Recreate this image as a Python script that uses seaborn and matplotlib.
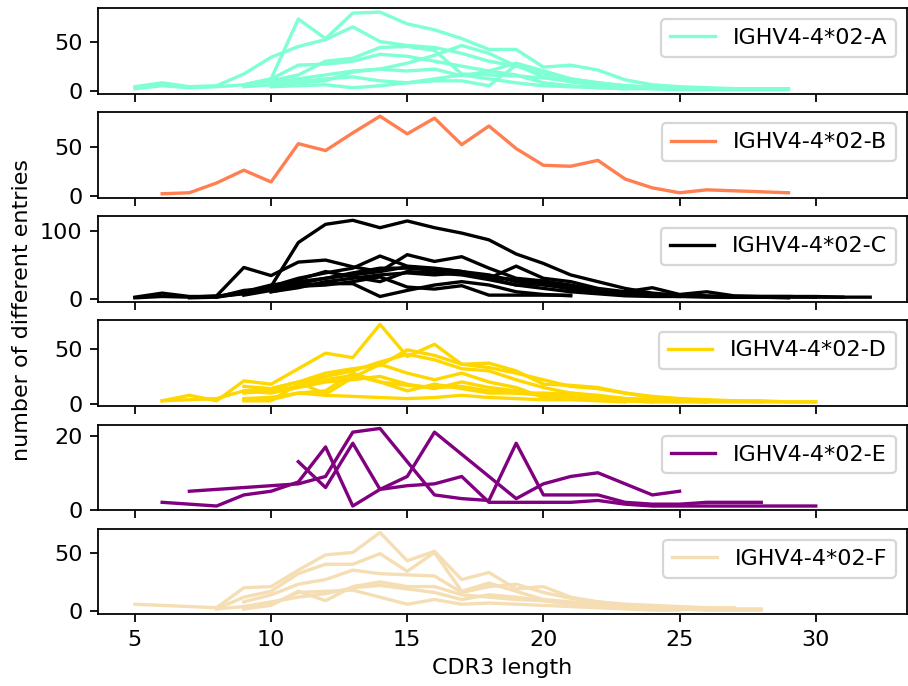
import numpy as np
import pandas as pd
import matplotlib.pyplot as plt
import seaborn as sns
from matplotlib.lines import Line2D

names = ['IGHV4-4*02-A', 'IGHV4-4*02-B', 'IGHV4-4*02-C',
         'IGHV4-4*02-D', 'IGHV4-4*02-E', 'IGHV4-4*02-F']
colors = ['aquamarine', 'coral', 'black', 'gold', 'purple', 'wheat']
yticks = [[0, 50], [0, 50], [0, 100], [0, 50], [0, 20], [0, 50]]

# first CDR3 length of every sample line, then its counts (None = length missing)
a_start = [5, 5, 9, 9, 10, 10, 10, 9]
a_counts = [
    [2, 5, 3, 4, 6, 12, 73, 53, 79, 80, 68, 62, 53, 42, 42, 24, 26, 21, 11, 6, 4, 3, 2, 2, 2],
    [4, 8, 4, 5, 17, 34, 45, 52, 65, 50, 46, 44, 38, 30, 25, 20, 12, 8, 5, 4, 3, 2],
    [6, 12, 26, 27, 30, 37, 35, 30, 25, 20, 28, 20, 12, 8, 5, 3, 2],
    [5, 10, 16, 30, 33, 44, 45, 41, 17, 16, 15, 13, 10, 7, 4, 2, 2],
    [8, 12, 16, 20, 22, 28, 36, 46, 38, 25, 18, 10, 6, 4, 3],
    [6, 8, 10, 19, 22, 20, 22, 15, 20, 16, 8, 5, 3, 2],
    [4, 5, 6, 3, 5, 8, 10, 10, 5, 26, 14, 9, 5, 3],
    [4, 6, 9, 12, 14, 10, 8, 12, 16, 12, 8, 5, 4, 3, 2, 2, 1, 1, 1, 1, 1],
]

b_start = [6]
b_counts = [
    [2, 3, 13, 26, 14, 53, 46, 64, 81, 63, 79, 52, 71, 48, 31, 30, 36, 17, 8, 3, 6, 5, 4, 3],
]

c_start = [5, 5, 8, 8, 7, 9, 10, 9, 10]
c_counts = [
    [2, 8, 3, 3, 7, 18, 83, 110, 116, 105, 115, 105, 97, 87, 66, 52, 35, 25, 15, 8, 5, 4, 3, 3, 3, 3, 2, 2],
    [1, 3, 2, 4, 46, 34, 54, 57, 47, 40, 47, 44, 40, 30, 20, 15, 10, 7, 4, 3, 3, 2, 2, 2, 2, 2],
    [2, 8, 18, 30, 38, 45, 63, 48, 45, 40, 30, 48, 30, 25, 15, 10, 6, 4, 3, 2, 2],
    [3, 10, 20, 25, 30, 35, 40, 65, 55, 62, 45, 30, 26, 20, 12, 10, 16, 6, 10, 4, 3, 3, 2, 2],
    [1, 2, 12, 15, 28, 40, 32, 25, 40, 38, 35, 28, 20, 22, 14, 8, 6, 4],
    [5, 12, 20, 22, 22, 3, 12, 20, 25, 20, 10, 6, 4],
    [10, 18, 20, 25, 32, 17, 14, 19, 5, 5, 5, 5],
    [6, 14, 22, 30, 38, 45, 45, 42, 40, 35, 25, 20, 15, 10, 6, 4, 3],
    [10, 16, 25, 30, 35, 38, 35, 38, 32, 28, 24, 18, 12, 8, 5, 4, 3, 2, 2, 1],
]

d_start = [6, 6, 9, 9, 9, 9, 9, 9]
d_counts = [
    [3, 8, 3, 21, 18, 32, 46, 42, 72, 43, 54, 36, 37, 30, 18, 17, 15, 10, 7, 5, 4, 3, 3, 2, 2],
    [3, 4, 5, 12, 14, 20, 28, 32, 35, 49, 44, 36, 33, 28, 22, 16, 14, 10, 6, 4, 3, 3, 2],
    [3, 3, 18, 25, 30, 38, 45, 40, 32, 30, 22, 15, 10, 7, 5, 4, 3, 2],
    [16, 14, 20, 9, 24, 36, 28, 22, 28, 20, 15, 6, 10, 8, 5, 4, 3, 2],
    [12, 10, 15, 20, 22, 25, 18, 14, 20, 15, 12, 8, 6, 4, 3, 2],
    [10, 12, 16, 22, 26, 20, 12, 18, 14, 10, 10, 8, 6, 4, 3, 2, 2],
    [4, 4, 10, 8, 7, 6, 5, 6, 8, 6, 5, 4, 4, 3, 2],
    [5, 6, 10, 12, 28, 20, 17, 15, 16, 12, 10, 10, 9, 6, 4, 3, 2, 2, 2, 2, 2, 2],
]

e_start = [11, 6, 7]
e_counts = [
    [13, 6, 18, 5.5, 9, 21, 15, 9, 3, 7, 9, 10, 7, 4, 5],
    [2, None, 1, 4, 5, 7.5, 17, 1, 5.5, 6.5, 7, 9, 2, 2, 2, 2, 2.5, 1.5, 1, 1, 1, 1, 1, 1, 1],
    [5, None, None, None, 7, 9, 21, 22, 13, 4, 3, 2.5, 18, 4, 4, 4, 2, 1.5, 1.5, 2, 2, 2],
]

f_start = [5, 8, 9, 9, 9, 8]
f_counts = [
    [6, 5, 4, 3, 20, 21, 35, 48, 50, 67, 43, 51, 27, 33, 19, 21, 12, 8, 6, 5, 4, 3, 3],
    [2, 12, 17, 32, 40, 40, 49, 34, 50, 17, 24, 17, 10, 8, 6, 4, 3, 2, 2, 2, 2],
    [8, 14, 23, 27, 35, 32, 31, 30, 16, 21, 23, 16, 11, 8, 5, 4, 3, 2, 2],
    [2, 5, 17, 9, 21, 25, 21, 21, 14, 12, 10, 9, 7, 6, 4, 3, 2, 2],
    [2, 6, 16, 17, 18, 12, 6, 10, 6, 7, 6, 5, 4, 3, 2, 1, 1],
    [2, 4, 8, 12, 15, 20, 22, 19, 16, 10, 14, 12, 9, 6, 4, 3, 2, 2, 1, 1, 1],
]

panels = [(a_start, a_counts), (b_start, b_counts), (c_start, c_counts),
          (d_start, d_counts), (e_start, e_counts), (f_start, f_counts)]


def to_frame(starts, counts):
    rows = []
    for i, (s, vals) in enumerate(zip(starts, counts)):
        for j, v in enumerate(vals):
            if v is not None:
                rows.append({'sample': i, 'length': s + j, 'entries': v})
    return pd.DataFrame(rows)


fig, axes = plt.subplots(6, 1, figsize=(5.68, 4.2875), dpi=160, sharex=True)
fig.subplots_adjust(left=0.108, right=0.998, top=0.988, bottom=0.105, hspace=0.22)

for ax, (starts, counts), name, c, yt in zip(axes, panels, names, colors, yticks):
    df = to_frame(starts, counts)
    sns.lineplot(data=df, x='length', y='entries', units='sample', estimator=None,
                 color=c, lw=1.5, ax=ax, legend=False)
    ax.set_xlabel('')
    ax.set_ylabel('')
    ax.set_yticks(yt)
    ax.legend(handles=[Line2D([], [], color=c, lw=1.5, label=name)], loc='upper right')

axes[-1].set_xlabel('CDR3 length')
fig.text(0.024, 0.548, 'number of different entries', rotation=90, va='center', ha='center')

fig.savefig('out.png', dpi=160)
